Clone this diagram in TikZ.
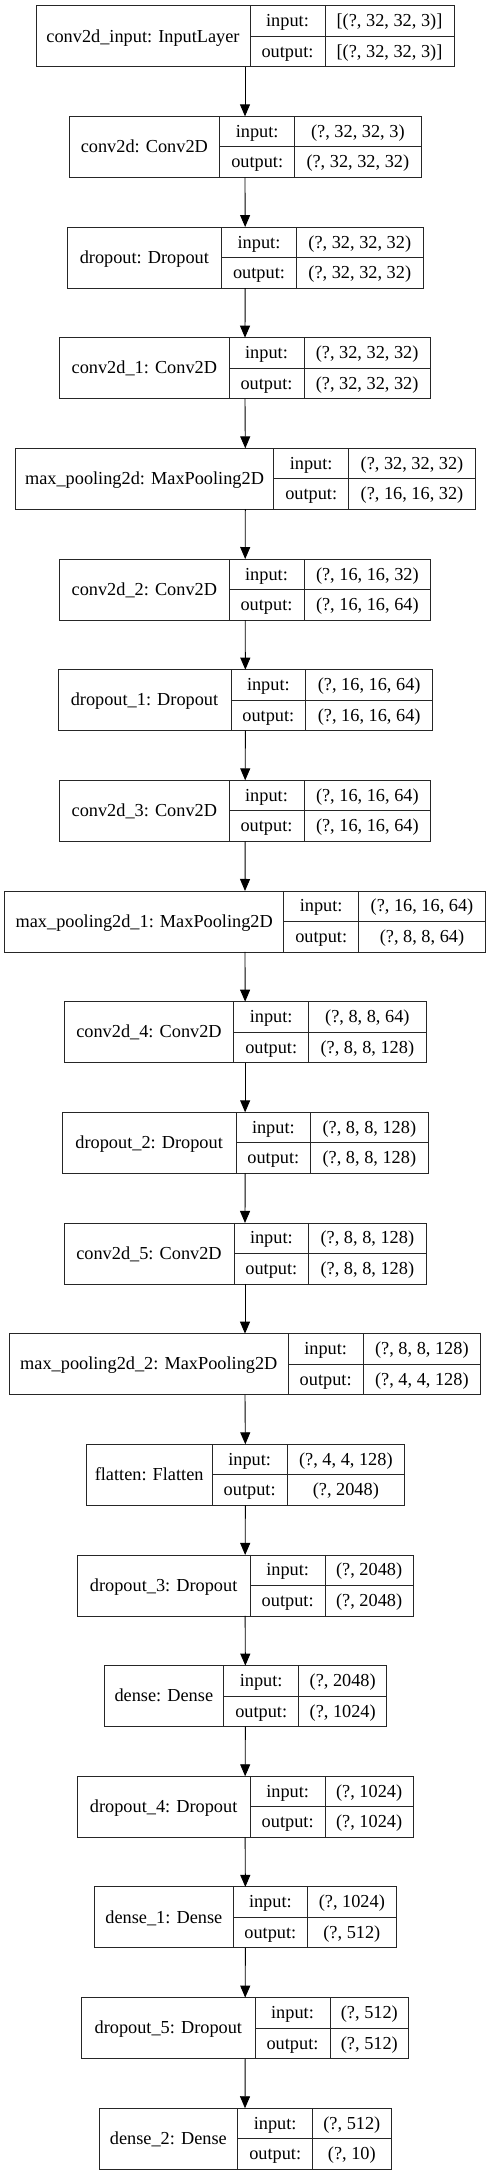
\documentclass[tikz,border=0pt]{standalone}
\usepackage{fontspec}
\setmainfont{Liberation Serif}
\usetikzlibrary{arrows.meta}
\tikzset{
  layerframe/.style={draw=black!85, line width=0.9pt, inner sep=0pt, outer sep=0pt, anchor=north west},
  celltext/.style={anchor=base, inner sep=0pt, font=\fontsize{18.3}{20}\selectfont},
  divider/.style={draw=black!85, line width=0.9pt},
  flow/.style={draw=black, line width=0.9pt, -{Triangle[length=12pt,width=10pt]}},
}
\newcommand{\layerbox}[8]{%
  \pgfmathsetmacro\yt{5.7+110.66*#1}%
  \node[layerframe, minimum width={(#5-#2)*1pt}, minimum height=61pt] (b#1) at (#2,\yt) {};
  \draw[divider] (#3,\yt) -- ++(0,61);
  \draw[divider] (#4,\yt) -- ++(0,61);
  \draw[divider] (#3,{\yt+30.5}) -- (#5,{\yt+30.5});
  \node[celltext] (b#1name) at ({(#2+#3)/2},{\yt+36.3}) {#6};
  \node[celltext] (b#1inl) at ({(#3+#4)/2},{\yt+21.0}) {input:};
  \node[celltext] (b#1outl) at ({(#3+#4)/2},{\yt+51.5}) {output:};
  \node[celltext] (b#1inv) at ({(#4+#5)/2},{\yt+21.0}) {#7};
  \node[celltext] (b#1outv) at ({(#4+#5)/2},{\yt+51.5}) {#8};
}
\begin{document}
\begin{tikzpicture}[x=1pt,y=-1pt]
\useasboundingbox (0,0) rectangle (491,2176);
\layerbox{0}{36}{250}{325}{454}{conv2d\_input: InputLayer}{[(?, 32, 32, 3)]}{[(?, 32, 32, 3)]}
\layerbox{1}{69}{219.7}{294.7}{421}{conv2d: Conv2D}{(?, 32, 32, 3)}{(?, 32, 32, 32)}
\layerbox{2}{67}{221.7}{296.3}{423.3}{dropout: Dropout}{(?, 32, 32, 32)}{(?, 32, 32, 32)}
\layerbox{3}{59.7}{229}{304}{430.3}{conv2d\_1: Conv2D}{(?, 32, 32, 32)}{(?, 32, 32, 32)}
\layerbox{4}{15.3}{273.7}{348.7}{475.3}{max\_pooling2d: MaxPooling2D}{(?, 32, 32, 32)}{(?, 16, 16, 32)}
\layerbox{5}{59.7}{229}{304}{430.7}{conv2d\_2: Conv2D}{(?, 16, 16, 32)}{(?, 16, 16, 64)}
\layerbox{6}{58}{231}{305.7}{432.7}{dropout\_1: Dropout}{(?, 16, 16, 64)}{(?, 16, 16, 64)}
\layerbox{7}{59.7}{229}{304}{430.7}{conv2d\_3: Conv2D}{(?, 16, 16, 64)}{(?, 16, 16, 64)}
\layerbox{8}{4.7}{283.7}{358.7}{485.3}{max\_pooling2d\_1: MaxPooling2D}{(?, 16, 16, 64)}{(?, 8, 8, 64)}
\layerbox{9}{64.3}{233.7}{308.7}{426}{conv2d\_4: Conv2D}{(?, 8, 8, 64)}{(?, 8, 8, 128)}
\layerbox{10}{62.3}{236}{310.7}{428}{dropout\_2: Dropout}{(?, 8, 8, 128)}{(?, 8, 8, 128)}
\layerbox{11}{64}{234}{308.7}{426}{conv2d\_5: Conv2D}{(?, 8, 8, 128)}{(?, 8, 8, 128)}
\layerbox{12}{9.3}{288.3}{363}{480.7}{max\_pooling2d\_2: MaxPooling2D}{(?, 8, 8, 128)}{(?, 4, 4, 128)}
\layerbox{13}{86}{212.3}{287}{404.7}{flatten: Flatten}{(?, 4, 4, 128)}{(?, 2048)}
\layerbox{14}{77}{250.3}{325}{413.3}{dropout\_3: Dropout}{(?, 2048)}{(?, 2048)}
\layerbox{15}{104}{223.7}{298.7}{386.7}{dense: Dense}{(?, 2048)}{(?, 1024)}
\layerbox{16}{77}{250.3}{325}{413.3}{dropout\_4: Dropout}{(?, 1024)}{(?, 1024)}
\layerbox{17}{94.7}{233}{307.7}{396}{dense\_1: Dense}{(?, 1024)}{(?, 512)}
\layerbox{18}{81.7}{255}{330}{408.7}{dropout\_5: Dropout}{(?, 512)}{(?, 512)}
\layerbox{19}{99}{237.7}{312.7}{391}{dense\_2: Dense}{(?, 512)}{(?, 10)}
\foreach \i [evaluate=\i as \j using int(\i+1)] in {0,...,18}
  \draw[flow] (b\i.south) -- (b\j.north);
\end{tikzpicture}
\end{document}
